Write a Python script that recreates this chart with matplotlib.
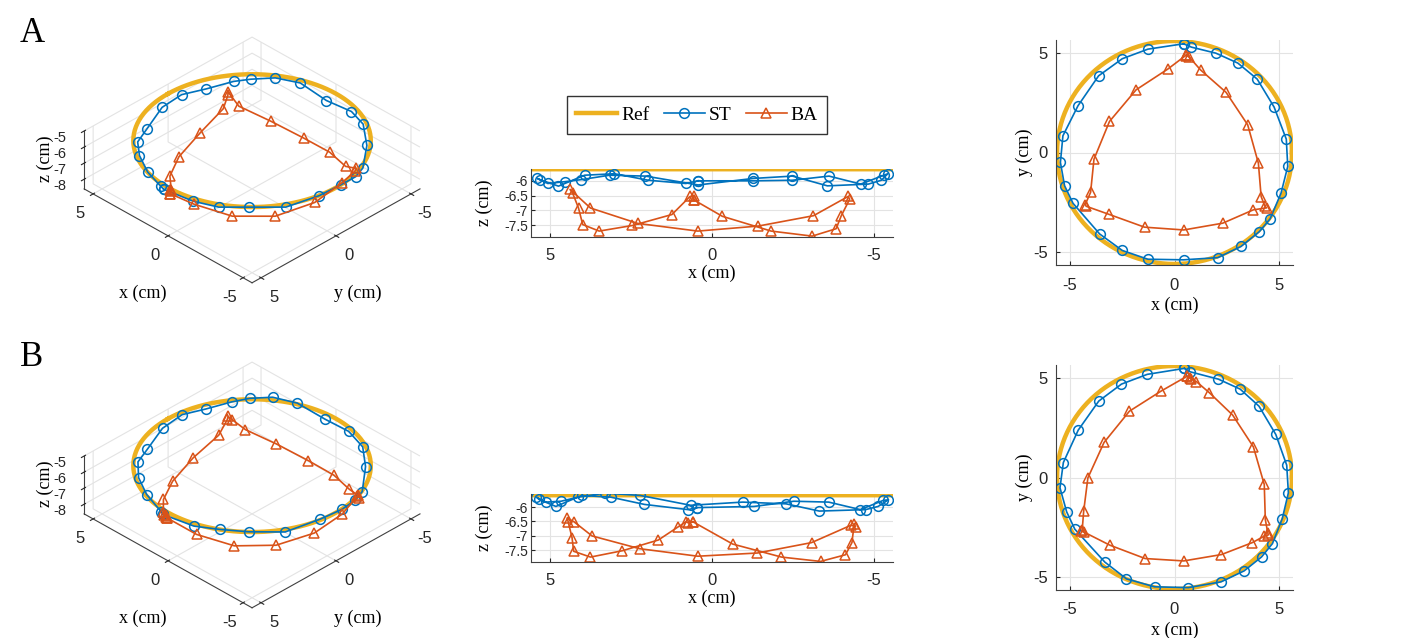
import matplotlib
matplotlib.use("Agg")
import matplotlib.pyplot as plt
import numpy as np

# colours (MATLAB defaults)
c_ref = '#EDB120'
c_st = '#0072BD'
c_ba = '#D95319'

# reference circle
ref_radius = 5.6
ref_z = -5.6

# ---- trial A ----
A_st_x = [0.43, 0.81, 1.97, 3.02, 3.94, 4.75, 5.33, 5.40, 5.08, 4.56, 4.05, 3.17, 2.06, 0.43,
          -1.27, -2.49, -3.57, -4.84, -5.24, -5.44, -5.32, -4.60, -3.62, -2.49, -1.27]
A_st_y = [5.46, 5.29, 4.99, 4.49, 3.69, 2.28, 0.67, -0.70, -2.04, -3.33, -3.97, -4.72, -5.28, -5.39,
          -5.36, -4.92, -4.09, -2.55, -1.67, -0.50, 0.84, 2.35, 3.85, 4.71, 5.19]
A_st_z = [-6.00, -6.09, -5.98, -5.76, -5.81, -6.18, -5.96, -5.92, -6.09, -6.03, -5.96, -5.81, -5.84, -6.14,
          -5.92, -5.84, -6.17, -6.11, -5.98, -5.76, -5.81, -6.11, -5.84, -5.98, -6.00]

A_ba_x = [0.57, 0.57, 0.68, 1.24, 2.46, 3.49, 4.00, 4.13, 4.31, 4.39, 3.76, 2.30, 0.44,
          -1.43, -3.14, -4.21, -4.26, -4.00, -3.84, -3.10, -1.83, -0.32]
A_ba_y = [4.90, 4.86, 4.82, 4.15, 3.02, 1.39, -0.54, -2.21, -2.70, -2.78, -2.88, -3.55, -3.89,
          -3.75, -3.10, -2.70, -2.62, -2.00, -0.34, 1.56, 3.15, 4.19]
A_ba_z = [-6.64, -6.51, -6.53, -7.14, -7.51, -7.70, -7.48, -6.92, -6.42, -6.29, -6.92, -7.44, -7.70,
          -7.53, -7.18, -6.53, -6.62, -7.18, -7.62, -7.87, -7.70, -7.20]

# ---- trial B ----
B_st_x = [0.47, 0.74, 2.09, 3.13, 4.03, 4.83, 5.35, 5.43, 5.14, 4.67, 4.15, 3.32, 2.22, 0.66,
          -0.95, -2.29, -3.32, -4.75, -5.14, -5.46, -5.30, -4.59, -3.61, -2.53, -1.30]
B_st_y = [5.48, 5.31, 4.94, 4.44, 3.58, 2.16, 0.62, -0.77, -2.06, -3.32, -3.99, -4.69, -5.24, -5.53,
          -5.49, -5.09, -4.25, -2.60, -1.73, -0.52, 0.75, 2.38, 3.84, 4.69, 5.18]
B_st_z = [-6.02, -6.09, -5.91, -5.66, -5.60, -5.98, -5.74, -5.66, -5.83, -5.80, -5.66, -5.52, -5.60, -5.94,
          -5.83, -5.89, -6.14, -6.09, -5.98, -5.75, -5.77, -6.09, -5.83, -5.80, -5.98]

B_ba_x = [0.59, 0.73, 0.80, 1.04, 1.66, 2.77, 3.76, 4.28, 4.33, 4.45, 4.48, 4.27, 3.71, 2.24, 0.44,
          -1.40, -3.08, -4.30, -4.44, -4.40, -4.33, -4.13, -3.36, -2.15, -0.64]
B_ba_y = [5.08, 5.00, 4.95, 4.82, 4.26, 3.14, 1.54, -0.35, -2.11, -2.80, -2.88, -2.95, -3.27, -3.87, -4.19,
          -4.07, -3.40, -2.75, -2.70, -2.62, -1.69, -0.02, 1.76, 3.33, 4.34]
B_ba_z = [-6.51, -6.55, -6.51, -6.68, -7.14, -7.51, -7.73, -7.53, -7.06, -6.51, -6.38, -6.51, -7.00, -7.44, -7.70,
          -7.59, -7.23, -6.63, -6.68, -6.57, -7.23, -7.65, -7.88, -7.73, -7.28]

trials = [
    ('A', A_st_x, A_st_y, A_st_z, A_ba_x, A_ba_y, A_ba_z),
    ('B', B_st_x, B_st_y, B_st_z, B_ba_x, B_ba_y, B_ba_z),
]

serif = ['Liberation Serif', 'DejaVu Serif']
plt.rcParams['font.family'] = ['Liberation Sans', 'DejaVu Sans']
plt.rcParams['font.size'] = 12
plt.rcParams['axes.unicode_minus'] = False

W, H = 1401, 638
fig = plt.figure(figsize=(W / 100, H / 100), dpi=100)


def rect(x0, y0, x1, y1):
    return [x0 / W, 1 - y1 / H, (x1 - x0) / W, (y1 - y0) / H]


def closed(v):
    return list(v) + [v[0]]


theta = np.linspace(0, 2 * np.pi, 361)
ref_x = ref_radius * np.cos(theta)
ref_y = ref_radius * np.sin(theta)
ref_zz = np.full_like(theta, ref_z)

st_kw = dict(color=c_st, marker='o', markersize=7, markerfacecolor='none', markeredgewidth=1.1, lw=1.2)
ba_kw = dict(color=c_ba, marker='^', markersize=7, markerfacecolor='none', markeredgewidth=1.1, lw=1.2)
ref_kw = dict(color=c_ref, lw=3.2)
lab_kw = dict(family=serif, fontsize=13)

for i, (name, sx, sy, sz, bx, by, bz) in enumerate(trials):
    dy = 325 * i

    # 3-D view
    ax3 = fig.add_axes(rect(38, 14 + dy, 458, 314 + dy), projection='3d', proj_type='ortho')
    ax3.plot(ref_x, ref_y, ref_zz, **ref_kw)
    ax3.plot(closed(sx), closed(sy), closed(sz), **st_kw)
    ax3.plot(closed(bx), closed(by), closed(bz), **ba_kw)
    ax3.set_xlim(-5.6, 5.6)
    ax3.set_ylim(-5.6, 5.6)
    ax3.set_zlim(-8.6, -5.0)
    ax3.set_xticks([-5, 0, 5])
    ax3.set_yticks([-5, 0, 5])
    ax3.set_zticks([-8, -7, -6, -5])
    ax3.view_init(elev=34, azim=135)
    ax3.set_box_aspect((1, 1, 0.294), zoom=1.11)
    for axis in (ax3.xaxis, ax3.yaxis, ax3.zaxis):
        axis.set_pane_color((1, 1, 1, 0))
        axis._axinfo['grid'].update(color='#e3e3e3', linewidth=0.8)
        axis.line.set_color('#404040')
        axis.line.set_linewidth(0.8)
    ax3.zaxis.set_ticks_position('upper')
    ax3.tick_params(axis='x', labelsize=12, colors='#262626', pad=1)
    ax3.tick_params(axis='y', labelsize=12, colors='#262626', pad=1)
    ax3.tick_params(axis='z', labelsize=10.5, colors='#262626', pad=0)
    fig.text(143 / W, 1 - (293 + dy) / H, 'x (cm)', ha='center', va='center', **lab_kw)
    fig.text(358 / W, 1 - (293 + dy) / H, 'y (cm)', ha='center', va='center', **lab_kw)
    fig.text(45 / W, 1 - (159 + dy) / H, 'z (cm)', ha='center', va='center', rotation=90, **lab_kw)
    fig.text(20 / W, 1 - (33 + dy) / H, name, family=serif, fontsize=25, ha='left', va='center')

    # side view (x-z)
    ax2 = fig.add_axes(rect(531, 169 + dy, 893, 237 + dy))
    l_ref, = ax2.plot(ref_x, ref_zz, **ref_kw, label='Ref')
    l_st, = ax2.plot(closed(sx), closed(sz), **st_kw, label='ST')
    l_ba, = ax2.plot(closed(bx), closed(bz), **ba_kw, label='BA')
    ax2.set_xlim(5.6, -5.6)
    ax2.set_ylim(-7.9, -5.55 if i else -5.6)
    ax2.set_xticks([5, 0, -5])
    ax2.set_yticks([-7.5, -7, -6.5, -6])
    ax2.set_yticklabels(['-7.5', '-7', '-6.5', '-6'])
    ax2.set_xticklabels(['5', '0', '-5'])
    ax2.set_xlabel('x (cm)', labelpad=1, **lab_kw)
    ax2.set_ylabel('z (cm)', labelpad=8, **lab_kw)
    ax2.tick_params(axis='x', labelsize=12, pad=8)
    ax2.tick_params(axis='y', labelsize=10, pad=2)

    # top view (x-y)
    ax1 = fig.add_axes(rect(1056, 40 + dy, 1293, 265 + dy))
    ax1.plot(ref_x, ref_y, **ref_kw)
    ax1.plot(closed(sx), closed(sy), **st_kw)
    ax1.plot(closed(bx), closed(by), **ba_kw)
    ax1.set_xlim(-5.65, 5.65)
    ax1.set_ylim(-5.65, 5.65)
    ax1.set_xticks([-5, 0, 5])
    ax1.set_yticks([-5, 0, 5])
    ax1.set_xticklabels(['-5', '0', '5'])
    ax1.set_yticklabels(['-5', '0', '5'])
    ax1.set_xlabel('x (cm)', labelpad=3, **lab_kw)
    ax1.set_ylabel('y (cm)', labelpad=0, **lab_kw)
    ax1.tick_params(axis='x', labelsize=12, pad=9)
    ax1.tick_params(axis='y', labelsize=12, pad=6)

    for ax in (ax1, ax2):
        ax.grid(True, color='#e3e3e3', lw=0.8)
        ax.set_axisbelow(True)
        for s in ('top', 'right'):
            ax.spines[s].set_visible(False)
        for s in ('left', 'bottom'):
            ax.spines[s].set_color('#404040')
            ax.spines[s].set_linewidth(0.8)
        ax.tick_params(direction='in', length=3, colors='#262626')

    if i == 0:
        fig.legend(handles=[l_ref, l_st, l_ba], loc='center', ncol=3,
                   bbox_to_anchor=(697 / W, 1 - 115 / H), frameon=True, fancybox=False,
                   edgecolor='black', prop={'family': serif, 'size': 14},
                   handlelength=2.1, columnspacing=0.75, handletextpad=0.2, borderpad=0.5,
                   borderaxespad=0)

fig.savefig('out.png', dpi=100)
